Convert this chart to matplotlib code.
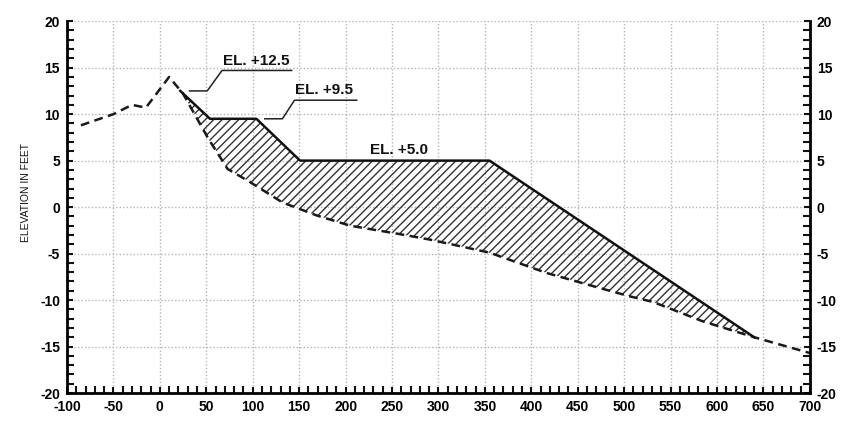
import numpy as np
import matplotlib
matplotlib.use('Agg')
import matplotlib.pyplot as plt
from matplotlib.ticker import MultipleLocator

plt.rcParams['font.family'] = ['Liberation Sans', 'DejaVu Sans']
plt.rcParams['axes.unicode_minus'] = False

# existing ground profile (dashed)
ground_x = [-85, -50, -30, -15, 10, 25, 52, 73, 97, 132, 169, 205, 258, 291,
            355, 417, 470, 506, 531, 585, 640, 700]
ground_y = [8.8, 10.0, 11.0, 10.7, 14.0, 12.2, 7.4, 4.1, 2.7, 0.5, -0.9, -2.0,
            -2.9, -3.5, -4.9, -7.1, -8.6, -9.6, -10.2, -12.3, -14.0, -15.7]

# design fill profile (solid)
design_x = [22, 54, 104, 151, 355, 640]
design_y = [12.5, 9.5, 9.5, 5.0, 5.0, -14.0]

# elevation callouts: label, leader start, knee, text underline start, end
callouts = [
    ('EL. +12.5', (32, 12.5), (51, 12.5), (67, 14.7), (142, 14.7)),
    ('EL. +9.5', (113, 9.5), (132, 9.5), (145, 11.5), (212, 11.5)),
]

fig = plt.figure(figsize=(8.5, 4.23), dpi=100)
ax = fig.add_axes([0.0788, 0.0709, 0.874, 0.879])

# hatched fill between design and ground
xs = np.linspace(design_x[0], design_x[-1], 400)
top = np.interp(xs, design_x, design_y)
bot = np.interp(xs, ground_x, ground_y)
ax.fill_between(xs, bot, top, facecolor='none', edgecolor='#333333',
                hatch='////', linewidth=0)

ax.plot(ground_x, ground_y, color='#1a1a1a', lw=1.8, ls=(0, (3.5, 2.2)))
ax.plot(design_x, design_y, color='#111111', lw=1.8)

for label, p0, p1, p2, p3 in callouts:
    ax.plot([p0[0], p1[0], p2[0], p3[0]], [p0[1], p1[1], p2[1], p3[1]],
            color='#222222', lw=1.1)
    ax.text(p2[0] + 0.5, p2[1] + 0.3, label, fontsize=11, fontweight='bold',
            ha='left', va='bottom', color='#111111')
ax.text(258, 5.4, 'EL. +5.0', fontsize=11, fontweight='bold', ha='center',
        va='bottom', color='#111111')

ax.set_xlim(-100, 700)
ax.set_ylim(-20, 20)
ax.xaxis.set_major_locator(MultipleLocator(50))
ax.xaxis.set_minor_locator(MultipleLocator(10))
ax.yaxis.set_major_locator(MultipleLocator(5))
ax.yaxis.set_minor_locator(MultipleLocator(1))
ax.grid(True, which='major', color='#b5b5b5', ls=(0, (1, 1.5)), lw=1.0)
ax.set_axisbelow(True)

for side in ['left', 'bottom', 'right']:
    ax.spines[side].set_linewidth(2.0)
ax.spines['top'].set_visible(False)

ax.tick_params(which='both', direction='in', left=True, right=True,
               bottom=True, top=False, labelleft=True, labelright=True,
               width=1.5, color='#111111')
ax.tick_params(which='major', length=4, pad=5, labelsize=10)
ax.tick_params(which='minor', length=5)
for lab in ax.get_xticklabels() + ax.get_yticklabels():
    lab.set_fontweight('bold')
for t in ax.yaxis.get_major_ticks():
    t.label2.set_fontweight('bold')

ax.set_ylabel('ELEVATION IN FEET', fontsize=7.5, color='#111111')
ax.yaxis.set_label_coords(-0.048, 0.538)

plt.savefig('out.png', dpi=100)
